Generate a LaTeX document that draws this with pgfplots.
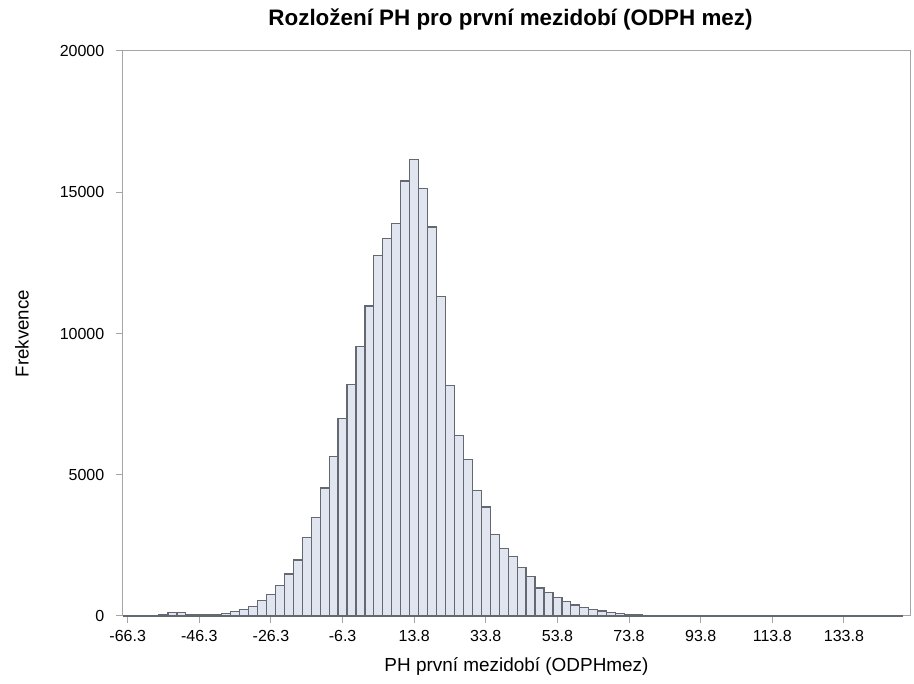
\documentclass[border=0pt]{standalone}
\usepackage{pgfplots}
\pgfplotsset{compat=1.18}
\usepackage{fontspec}
\setmainfont{Liberation Sans}
\definecolor{barfill}{RGB}{224,229,240}
\definecolor{baredge}{RGB}{100,104,112}
\definecolor{framec}{RGB}{165,165,168}
\pgfplotstableread{
mid val
-66.25 5
-63.75 8
-61.25 10
-58.75 15
-56.25 35
-53.75 130
-51.25 130
-48.75 40
-46.25 35
-43.75 45
-41.25 65
-38.75 100
-36.25 150
-33.75 220
-31.25 340
-28.75 540
-26.25 760
-23.75 1080
-21.25 1490
-18.75 1980
-16.25 2790
-13.75 3500
-11.25 4530
-8.75 5650
-6.25 6980
-3.75 8200
-1.25 9530
1.25 10970
3.75 12750
6.25 13370
8.75 13880
11.25 15400
13.75 16170
16.25 15140
18.75 13770
21.25 11300
23.75 8170
26.25 6380
28.75 5550
31.25 4450
33.75 3860
36.25 2880
38.75 2380
41.25 2120
43.75 1710
46.25 1385
48.75 990
51.25 830
53.75 650
56.25 520
58.75 390
61.25 310
63.75 220
66.25 175
68.75 130
71.25 95
73.75 65
76.25 45
78.75 30
81.25 22
83.75 18
86.25 15
88.75 12
91.25 10
93.75 10
96.25 8
98.75 8
101.25 8
103.75 10
106.25 12
108.75 18
111.25 25
113.75 25
116.25 18
118.75 12
121.25 10
123.75 8
126.25 6
128.75 6
131.25 5
133.75 5
136.25 5
138.75 5
141.25 5
143.75 5
146.25 5
148.75 5
}\histdata
\begin{document}
\begin{tikzpicture}
\useasboundingbox (-92.25pt,-51pt) rectangle (593.25pt,462pt);
\begin{axis}[
  at={(0pt,0pt)}, anchor=south west,
  scale only axis, width=590.25pt, height=423.75pt,
  xmin=-67.56, xmax=152.2, ymin=0, ymax=20000,
  scaled y ticks=false, scaled x ticks=false,
  axis line style={framec, line width=0.75pt},
  tick style={framec, line width=0.75pt},
  major tick length=5.5pt,
  tick align=outside, tick pos=left,
  xtick={-66.25,-46.25,-26.25,-6.25,13.75,33.75,53.75,73.75,93.75,113.75,133.75},
  xticklabels={-66.3,-46.3,-26.3,-6.3,13.8,33.8,53.8,73.8,93.8,113.8,133.8},
  ytick={0,5000,10000,15000,20000},
  yticklabels={0,5000,10000,15000,20000},
  ticklabel style={font=\fontsize{12}{14}\selectfont, text=black},
  xticklabel style={yshift=-2pt},
  yticklabel style={xshift=-5pt},
  title={Rozložení PH pro první mezidobí (ODPH mez)},
  title style={font=\bfseries\fontsize{16.8}{19}\selectfont, at={(0.5,1.0425)}, anchor=center, xshift=-4.5pt},
  xlabel={PH první mezidobí (ODPHmez)},
  xlabel style={font=\fontsize{14.2}{16}\selectfont, at={(0.5,-0.0885)}, anchor=center},
  ylabel={Frekvence},
  ylabel style={font=\fontsize{14}{16}\selectfont, at={(-0.1283,0.5)}, anchor=center},
  clip=false,
]
\addplot[ybar, bar width=2.5, bar shift=0pt, fill=barfill, draw=baredge, line width=0.9pt] table[x=mid, y=val] {\histdata};
\end{axis}
\end{tikzpicture}
\end{document}
